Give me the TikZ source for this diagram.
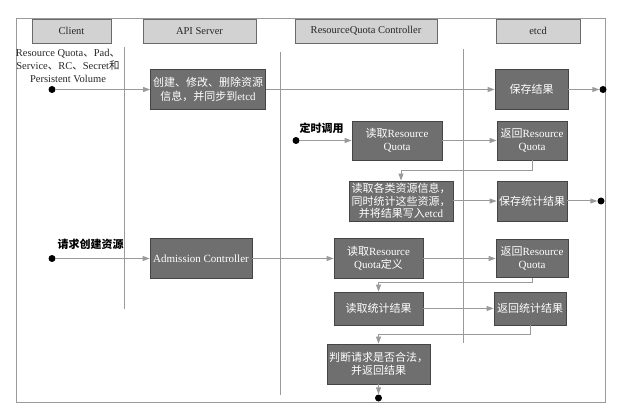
\documentclass[tikz,border=0pt]{standalone}
\usepackage{fontspec}
\setmainfont{Liberation Serif}
\newfontfamily\cjk{Noto Sans CJK SC}
\usetikzlibrary{arrows.meta,shadows}
\newcommand{\zh}[1]{{\cjk #1}}
\definecolor{boxfill}{HTML}{6F6F6F}
\definecolor{boxline}{HTML}{454545}
\definecolor{hdrfill}{HTML}{D2D2D2}
\definecolor{linec}{HTML}{9A9A9A}
\begin{document}
\begin{tikzpicture}[x=1pt,y=-1pt,
  hdr/.style={draw=boxline!80,line width=0.8pt,fill=hdrfill,minimum height=24pt,inner sep=0pt,font=\fontsize{10.5}{12}\selectfont,text=black!85,
    drop shadow={shadow xshift=1.2pt,shadow yshift=-1.2pt,fill=black!65,opacity=1}},
  proc/.style={draw=boxline,line width=0.8pt,fill=boxfill,text=white,inner sep=1pt,align=center,font=\fontsize{11}{13.5}\selectfont},
  lane/.style={draw=linec,line width=1pt},
  flow/.style={draw=linec,line width=1pt,-{Triangle[width=5pt,length=7pt,fill=linec]}},
  dotc/.style={circle,fill=black,inner sep=0pt,minimum size=7pt},
  lbl/.style={font=\fontsize{11}{13}\selectfont\bfseries,text=black}
]
\useasboundingbox (0,0) rectangle (626,411);
% frame
\draw[draw=linec,line width=1pt] (16,19) rectangle (605,402);
% lanes
\draw[lane] (124,47) -- (124,309);
\draw[lane] (280,52) -- (280,395);
\draw[lane] (463,49) -- (463,343);
% headers
\node[hdr,minimum width=79pt] (hc) at (71.5,31) {Client};
\node[hdr,minimum width=113pt] (ha) at (199.5,31) {API Server};
\node[hdr,minimum width=142pt] (hr) at (366,31) {ResourceQuota Controller};
\node[hdr,minimum width=84pt] (he) at (538,31) {etcd};
% labels
\node[align=center,font=\fontsize{10.5}{13}\selectfont,text=black!85] (cl) at (68,66) {Resource Quota\zh{、}Pad\zh{、}\\Service\zh{、}RC\zh{、}Secret\zh{和}\\Persistent Volume};
\node[lbl,anchor=west] (l2) at (296,128) {\zh{定时调用}};
\node[lbl,anchor=west] (l3) at (54,244) {\zh{请求创建资源}};
% boxes
\node[proc,minimum width=115pt,minimum height=40pt] (b1) at (208,89.5) {\zh{创建、修改、删除资源}\\\zh{信息，并同步到}etcd};
\node[proc,minimum width=73pt,minimum height=40pt] (b2) at (531.5,89.5) {\zh{保存结果}};
\node[proc,minimum width=90pt,minimum height=39pt] (b3) at (397,140.5) {\zh{读取}Resource\\Quota};
\node[proc,minimum width=70pt,minimum height=39pt] (b4) at (532,140.5) {\zh{返回}Resource\\Quota};
\node[proc,minimum width=104pt,minimum height=40pt,font=\fontsize{11}{12.5}\selectfont] (b5) at (401,201) {\zh{读取各类资源信息，}\\\zh{同时统计这些资源，}\\\zh{并将结果写入}etcd};
\node[proc,minimum width=70pt,minimum height=40pt] (b6) at (532,201) {\zh{保存统计结果}};
\node[proc,minimum width=102pt,minimum height=40pt] (b7) at (201,258.5) {Admission Controller};
\node[proc,minimum width=89pt,minimum height=40pt] (b8) at (378.5,258.5) {\zh{读取}Resource\\Quota\zh{定义}};
\node[proc,minimum width=72pt,minimum height=38pt] (b9) at (532,258.5) {\zh{返回}Resource\\Quota};
\node[proc,minimum width=89pt,minimum height=33pt] (b10) at (378.5,308.5) {\zh{读取统计结果}};
\node[proc,minimum width=72pt,minimum height=33pt] (b11) at (530,308.5) {\zh{返回统计结果}};
\node[proc,minimum width=103pt,minimum height=40pt] (b12) at (378.5,364) {\zh{判断请求是否合法，}\\\zh{并返回结果}};
% dots
\node[dotc] (d1) at (52,89.5) {};
\node[dotc] (e1) at (603,89.5) {};
\node[dotc] (d2) at (296,140.5) {};
\node[dotc] (e2) at (601,201) {};
\node[dotc] (d3) at (52,258.5) {};
\node[dotc] (e3) at (378.5,398) {};
% flows
\draw[flow] (d1) -- (b1);
\draw[flow] (b1) -- (b2);
\draw[flow] (b2) -- (e1);
\draw[flow] (d2) -- (b3);
\draw[flow] (b3) -- (b4);
\draw[flow] (b4.south) -- ++(0,10) -| (b5.north);
\draw[flow] (b5) -- (b6);
\draw[flow] (b6) -- (e2);
\draw[flow] (d3) -- (b7);
\draw[flow] (b7) -- (b8);
\draw[flow] (b8) -- (b9);
\draw[flow] (b9.south) -- ++(0,4.5) -| (b10.north);
\draw[flow] (b10) -- (b11);
\draw[flow] (b11.south) -- ++(0,9) -| (b12.north);
\draw[flow] (b12) -- (e3);
\end{tikzpicture}
\end{document}
